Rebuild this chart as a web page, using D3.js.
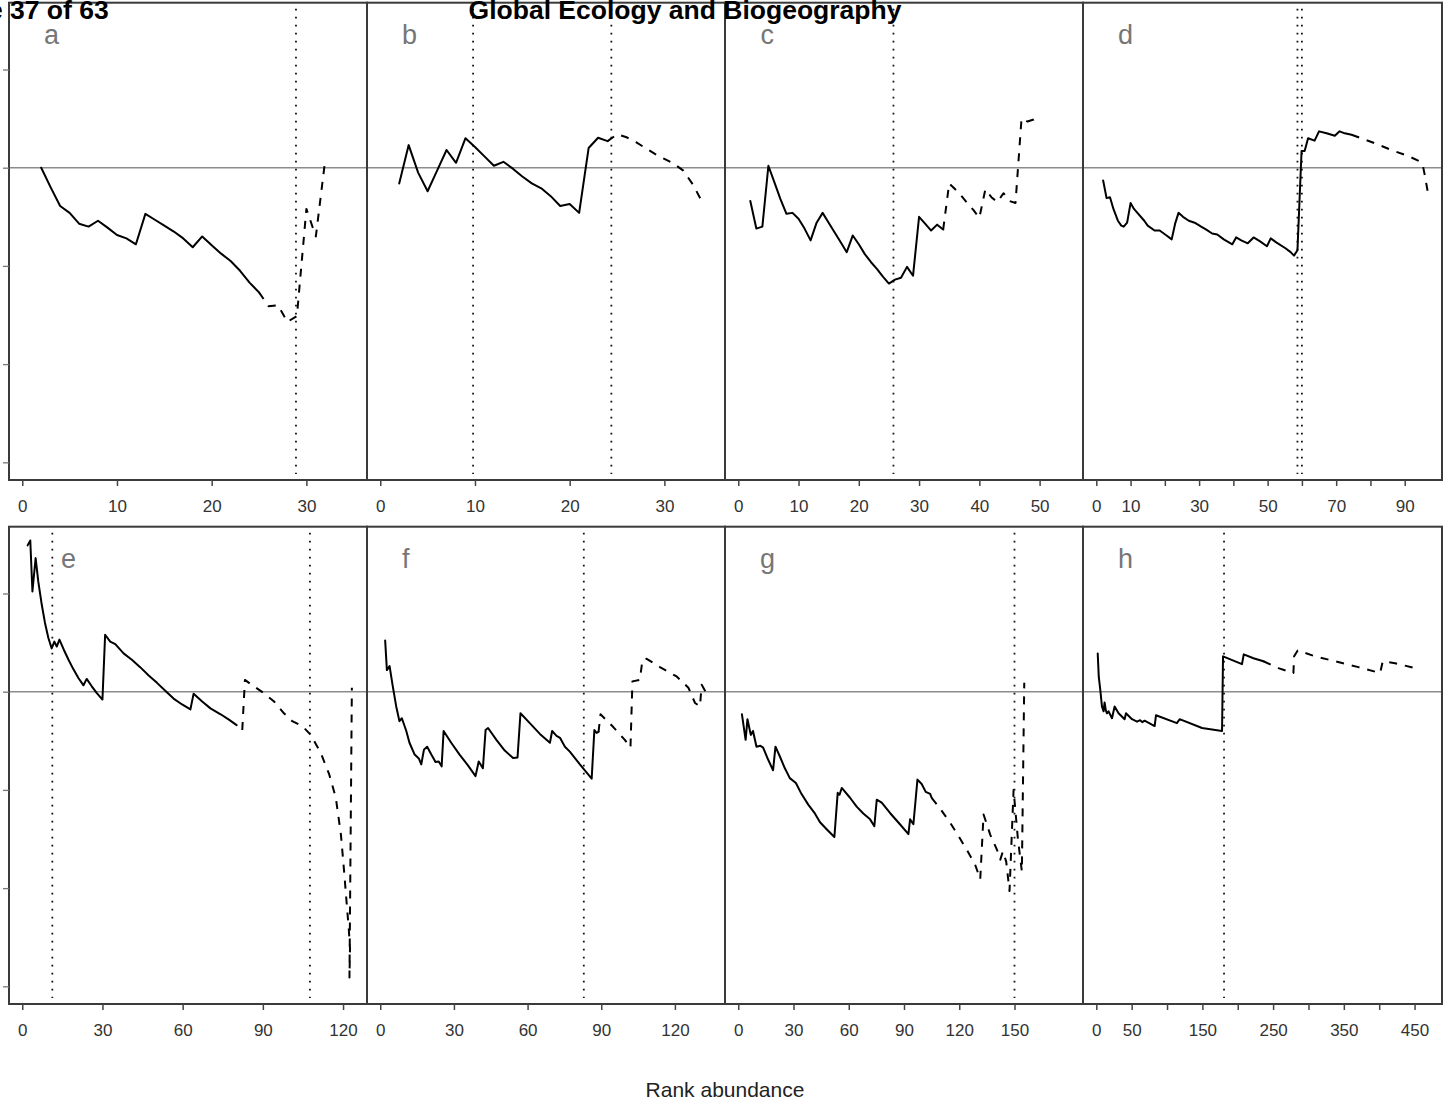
<!DOCTYPE html>
<html>
<head>
<meta charset="utf-8">
<script src="https://cdn.jsdelivr.net/npm/d3@7"></script>
<style>
  html, body { margin: 0; padding: 0; background: #fff; }
  svg { display: block; }
</style>
</head>
<body>
<svg id="fig" width="1443" height="1102"></svg>
<script>
// Rank-abundance deviation curves, eight assemblages (a–h).
// Each series is a list of [rank, deviation] pairs; the solid part is the
// observed sequence, the dashed part its continuation.

const panelLetters = ["a", "b", "c", "d", "e", "f", "g", "h"];

// x-axis limits (before the usual 4 % padding) and shared y limits
const xLimits = [[0, 35], [0, 35], [0, 55], [0, 97], [0, 124], [0, 135], [0, 180], [0, 470]];
const yLimits = [-3, 1.5];
const yTicks = [-3, -2, -1, 0, 1];

// tick positions and which of them carry a label
const xTicks = [
  [0, 10, 20, 30],
  [0, 10, 20, 30],
  [0, 10, 20, 30, 40, 50],
  [0, 10, 20, 30, 40, 50, 60, 70, 80, 90],
  [0, 30, 60, 90, 120],
  [0, 30, 60, 90, 120],
  [0, 30, 60, 90, 120, 150],
  [0, 50, 100, 150, 200, 250, 300, 350, 400, 450]
];
const xTickLabels = [
  [0, 10, 20, 30],
  [0, 10, 20, 30],
  [0, 10, 20, 30, 40, 50],
  [0, 10, 30, 50, 70, 90],
  [0, 30, 60, 90, 120],
  [0, 30, 60, 90, 120],
  [0, 30, 60, 90, 120, 150],
  [0, 50, 150, 250, 350, 450]
];

// vertical reference ranks (dotted)
const cutsA = [28.9];
const cutsB = [9.8, 24.4];
const cutsC = [25.75];
const cutsD = [58.7, 60];
const cutsE = [11.25, 107.6];
const cutsF = [82.9];
const cutsG = [150];
const cutsH = [180.6];

const solidA = [[2,0],[3,-0.2],[4,-0.39],[5,-0.46],[6,-0.57],[7,-0.6],[8,-0.54],[9,-0.61],[10,-0.685],[11,-0.72],[12,-0.78],[13,-0.47],[14,-0.53],[15,-0.59],[16,-0.65],[17,-0.72],[18,-0.81],[19,-0.7],[20,-0.79],[21,-0.875],[22,-0.95],[23,-1.05],[24,-1.17],[25,-1.27]];
const dashA = [[25,-1.27],[26,-1.41],[27,-1.4],[28,-1.57],[29,-1.51],[30,-0.42],[31,-0.7],[32,0.09]];

const solidB = [[2,-0.16],[3,0.23],[4,-0.05],[5,-0.24],[6,-0.03],[7,0.18],[8,0.05],[9,0.3],[10,0.21],[11,0.115],[12,0.02],[13,0.06],[14,-0.01],[15,-0.09],[16,-0.16],[17,-0.21],[18,-0.29],[19,-0.39],[20,-0.37],[21,-0.46],[22,0.2],[23,0.305],[24,0.27]];
const dashB = [[24,0.27],[25,0.34],[26,0.31],[27,0.26],[28,0.2],[29,0.14],[30,0.09],[31,0.04],[32,-0.03],[33,-0.17],[34,-0.35]];

const solidC = [[2,-0.34],[3,-0.62],[4,-0.6],[5,0.02],[6,-0.15],[7,-0.32],[8,-0.47],[9,-0.46],[10,-0.52],[11,-0.62],[12,-0.74],[13,-0.56],[14,-0.46],[15,-0.56],[16,-0.66],[17,-0.76],[18,-0.86],[19,-0.69],[20,-0.78],[21,-0.88],[22,-0.96],[23,-1.03],[24,-1.11],[25,-1.18],[26,-1.14],[27,-1.12],[28,-1.01],[29,-1.1],[30,-0.5],[31,-0.57],[32,-0.64],[33,-0.58],[34,-0.63]];
const dashC = [[34,-0.63],[35,-0.16],[36,-0.22],[37,-0.285],[38,-0.36],[39,-0.43],[40,-0.51],[41,-0.22],[42,-0.3],[43,-0.35],[44,-0.26],[45,-0.34],[46,-0.36],[47,0.5],[48,0.47],[49,0.49],[50,0.53]];

const solidD = [[2,-0.13],[3,-0.31],[4,-0.3],[5,-0.42],[6.3,-0.54],[7.3,-0.59],[8,-0.6],[9,-0.56],[10,-0.36],[11,-0.42],[12,-0.46],[14,-0.54],[15,-0.59],[17,-0.64],[18.5,-0.64],[20.5,-0.69],[22,-0.73],[23,-0.57],[24,-0.46],[25.3,-0.5],[27,-0.54],[28.7,-0.56],[30.6,-0.6],[32.1,-0.63],[33.8,-0.67],[35.3,-0.68],[37.2,-0.73],[39.7,-0.78],[40.8,-0.71],[42.3,-0.74],[44.2,-0.77],[45.9,-0.71],[47.8,-0.75],[49.8,-0.8],[50.9,-0.72],[52.5,-0.76],[55.2,-0.82],[56.7,-0.86],[57.7,-0.895],[58.7,-0.84],[59.9,0.17],[60.8,0.17],[61.8,0.3],[63.7,0.275],[65,0.37],[67.2,0.35],[69.6,0.325],[71,0.37],[72.5,0.35],[74.5,0.335]];
const dashD = [[74.5,0.335],[77.3,0.3],[81.2,0.25],[86.1,0.18],[90.9,0.12],[94.4,0.065],[95.3,0.02],[95.8,-0.065],[96.8,-0.26]];

const solidE = [[2,1.49],[3,1.54],[3.8,1.02],[5,1.36],[6,1.12],[7.3,0.885],[8.5,0.7],[9.75,0.55],[11,0.44],[12,0.51],[12.9,0.46],[13.9,0.53],[15.5,0.43],[17.3,0.325],[19.1,0.23],[21,0.14],[22.9,0.065],[24.1,0.13],[26,0.055],[27.9,-0.015],[30,-0.08],[31,0.58],[32.9,0.51],[34.8,0.485],[37.9,0.39],[41,0.325],[44.1,0.25],[47.3,0.165],[50.4,0.09],[53.5,0.01],[56.6,-0.07],[59.8,-0.13],[62.9,-0.18],[64.1,-0.02],[67.3,-0.1],[70.4,-0.17],[74.2,-0.23],[77.3,-0.285],[80.2,-0.34]];
const dashE = [[82.3,-0.39],[83.3,0.12],[86.6,0.055],[90.4,-0.015],[94.2,-0.1],[97.9,-0.22],[101,-0.3],[104.8,-0.35],[107.9,-0.44],[111.6,-0.62],[114.8,-0.84],[117.3,-1.08],[119.2,-1.455],[120.4,-1.83],[121.4,-2.17],[122.1,-2.4],[122.6,-2.61],[122.4,-2.91],[123.3,0.04]];

const solidF = [[2,0.52],[2.7,0.22],[3.8,0.26],[5.1,0.055],[6.5,-0.15],[7.8,-0.3],[8.8,-0.27],[10.6,-0.4],[11.9,-0.52],[14,-0.64],[15.7,-0.68],[16.7,-0.74],[17.8,-0.59],[19.1,-0.56],[20.8,-0.64],[22.5,-0.715],[23.8,-0.71],[25,-0.76],[25.8,-0.4],[28.9,-0.52],[32.3,-0.64],[35.7,-0.75],[38.8,-0.86],[40.1,-0.71],[41.8,-0.78],[42.9,-0.39],[43.9,-0.37],[47.3,-0.49],[50.7,-0.6],[54.1,-0.675],[55.9,-0.67],[57.1,-0.22],[60.9,-0.32],[65,-0.43],[69.1,-0.52],[70,-0.4],[71.8,-0.45],[73.2,-0.47],[75.2,-0.56],[77.2,-0.61],[81.3,-0.74],[86.1,-0.885],[87.2,-0.39],[88.1,-0.42],[88.9,-0.41]];
const dashF = [[88.9,-0.41],[89.7,-0.23],[94.9,-0.36],[99.6,-0.49],[101.9,-0.57],[102.7,0.105],[105.7,0.12],[106.8,0.325],[108.5,0.335],[113.9,0.25],[120.7,0.155],[125.5,0.04],[128.2,-0.115],[130.2,-0.15],[130.9,0.07],[133.6,-0.05]];

const solidG = [[2,-0.23],[4,-0.49],[5,-0.28],[6.8,-0.44],[8,-0.4],[9.9,-0.56],[12,-0.55],[13.5,-0.57],[15.7,-0.67],[18.9,-0.8],[20.2,-0.56],[22.6,-0.66],[25.3,-0.78],[28,-0.88],[31.3,-0.93],[34.3,-1.04],[38,-1.15],[41.6,-1.24],[44.4,-1.33],[48,-1.4],[52.2,-1.48],[54,-1.03],[55,-1.05],[56.2,-0.98],[60.7,-1.08],[64.3,-1.17],[67.9,-1.24],[71.6,-1.3],[73.9,-1.37],[75.2,-1.1],[77.9,-1.13],[82.4,-1.235],[87.8,-1.35],[92.4,-1.45],[93.3,-1.3],[95.1,-1.35],[97.3,-0.895],[99.6,-0.94],[101.8,-1.02],[104.2,-1.04],[105,-1.08]];
const dashG = [[105,-1.08],[108.8,-1.17],[115.1,-1.335],[119.6,-1.47],[124.1,-1.61],[128.6,-1.76],[131.4,-1.91],[133.2,-1.25],[136.8,-1.455],[140.5,-1.61],[142.3,-1.71],[143.7,-1.625],[145.5,-1.73],[147.3,-2.03],[149.5,-1.0],[151.8,-1.49],[154,-1.83],[155.3,0.09]];

const solidH = [[2,0.39],[3.5,0.15],[5.6,0.02],[8,-0.15],[10.3,-0.2],[11.7,-0.11],[13.5,-0.19],[15.1,-0.22],[17.4,-0.2],[22.2,-0.27],[25.9,-0.15],[31.5,-0.22],[40,-0.28],[42,-0.22],[50.5,-0.28],[57.6,-0.305],[62,-0.29],[65,-0.31],[68.3,-0.295],[82.5,-0.35],[84.4,-0.24],[114,-0.32],[117.8,-0.28],[149.5,-0.37],[177.8,-0.4],[179.2,0.36],[206,0.28],[208.5,0.38],[222.2,0.34],[236.3,0.31]];
const dashH = [[236.3,0.31],[257.5,0.24],[278.7,0.19],[279.7,0.36],[284.8,0.42],[309.3,0.36],[337.6,0.31],[370.6,0.25],[401.3,0.19],[405,0.31],[422.5,0.29],[450.8,0.24]];

// ---- assemble panels -------------------------------------------------
const solids = [solidA, solidB, solidC, solidD, solidE, solidF, solidG, solidH];
const dashes = [dashA, dashB, dashC, dashD, dashE, dashF, dashG, dashH];
const cuts = [cutsA, cutsB, cutsC, cutsD, cutsE, cutsF, cutsG, cutsH];

const panels = panelLetters.map((letter, i) => ({
  letter, xlim: xLimits[i], ticks: xTicks[i], labels: xTickLabels[i],
  solid: solids[i], dash: dashes[i], cuts: cuts[i]
}));

// ---- layout ------------------------------------------------------------
const FONT = "'Liberation Sans', Arial, Helvetica, sans-serif";
const colEdges = [9, 367, 725, 1083, 1442];
const rowEdges = [[2.7, 480], [526.7, 1004]];
const letterOffset = [35, 35, 35.5, 35, 52, 35, 35, 35];

const svg = d3.select("#fig");
svg.append("rect").attr("width", 1443).attr("height", 1102).attr("fill", "#fff");

const expand = lim => { const r = lim[1] - lim[0]; return [lim[0] - 0.04 * r, lim[1] + 0.04 * r]; };

panels.forEach((p, i) => {
  const col = i % 4, row = Math.floor(i / 4);
  const x0 = colEdges[col], x1 = colEdges[col + 1];
  const [top, bottom] = rowEdges[row];

  const x = d3.scaleLinear().domain(expand(p.xlim)).range([x0, x1]);
  const y = d3.scaleLinear().domain(expand(yLimits)).range([bottom, top]);

  const g = svg.append("g").attr("class", "panel-" + p.letter);

  g.append("clipPath").attr("id", "clip-" + p.letter)
    .append("rect").attr("x", x0).attr("y", top).attr("width", x1 - x0).attr("height", bottom - top);

  const plot = g.append("g").attr("clip-path", `url(#clip-${p.letter})`);

  // zero reference line
  plot.append("line")
    .attr("x1", x0).attr("x2", x1)
    .attr("y1", y(0)).attr("y2", y(0))
    .attr("stroke", "#8c8c8c").attr("stroke-width", 1.6);

  // dotted reference ranks
  plot.selectAll("line.cut").data(p.cuts).join("line")
    .attr("class", "cut")
    .attr("x1", d => x(d)).attr("x2", d => x(d))
    .attr("y1", top + 6).attr("y2", bottom - 6)
    .attr("stroke", "#111").attr("stroke-width", 1.8)
    .attr("stroke-dasharray", "1.8,6.2");

  const line = d3.line().x(d => x(d[0])).y(d => y(d[1]));

  plot.append("path").datum(p.solid)
    .attr("d", line).attr("fill", "none")
    .attr("stroke", "#000").attr("stroke-width", 2)
    .attr("stroke-linejoin", "round").attr("stroke-linecap", "round");

  plot.append("path").datum(p.dash)
    .attr("d", line).attr("fill", "none")
    .attr("stroke", "#000").attr("stroke-width", 2)
    .attr("stroke-dasharray", "8,8")
    .attr("stroke-linejoin", "round");

  // panel frame
  g.append("rect")
    .attr("x", x0).attr("y", top).attr("width", x1 - x0).attr("height", bottom - top)
    .attr("fill", "none").attr("stroke", "#3a3a3a").attr("stroke-width", 2);

  // x axis
  const ax = g.append("g").attr("transform", `translate(0,${bottom})`)
    .call(d3.axisBottom(x).tickValues(p.ticks).tickSize(6).tickPadding(14)
      .tickFormat(d => p.labels.includes(d) ? d : ""));
  ax.select(".domain").remove();
  ax.selectAll(".tick line").attr("stroke", "#444").attr("stroke-width", 1.5);
  ax.selectAll(".tick text").attr("fill", "#333")
    .style("font-family", FONT).style("font-size", "17px");

  // y ticks on the leftmost column
  if (col === 0) {
    const ay = g.append("g").attr("transform", `translate(${x0},0)`)
      .call(d3.axisLeft(y).tickValues(yTicks).tickSize(6).tickFormat(""));
    ay.select(".domain").remove();
    ay.selectAll(".tick line").attr("stroke", "#777").attr("stroke-width", 1.3);
  }

  // panel letter
  g.append("text")
    .attr("x", x0 + letterOffset[i]).attr("y", top + 41.3)
    .attr("fill", "#767676")
    .style("font-family", FONT).style("font-size", "27px")
    .text(p.letter);
});

// page header
svg.append("text")
  .attr("x", -60.7).attr("y", 18.5)
  .style("font-family", FONT).style("font-size", "26.5px").style("font-weight", "bold")
  .attr("fill", "#000")
  .text("Page 37 of 63");

svg.append("text")
  .attr("x", 685).attr("y", 18.5).attr("text-anchor", "middle")
  .style("font-family", FONT).style("font-size", "26.5px").style("font-weight", "bold")
  .attr("fill", "#000")
  .text("Global Ecology and Biogeography");

// shared axis title
svg.append("text")
  .attr("x", 725).attr("y", 1097).attr("text-anchor", "middle")
  .style("font-family", FONT).style("font-size", "21px")
  .attr("fill", "#222")
  .text("Rank abundance");
</script>
</body>
</html>
